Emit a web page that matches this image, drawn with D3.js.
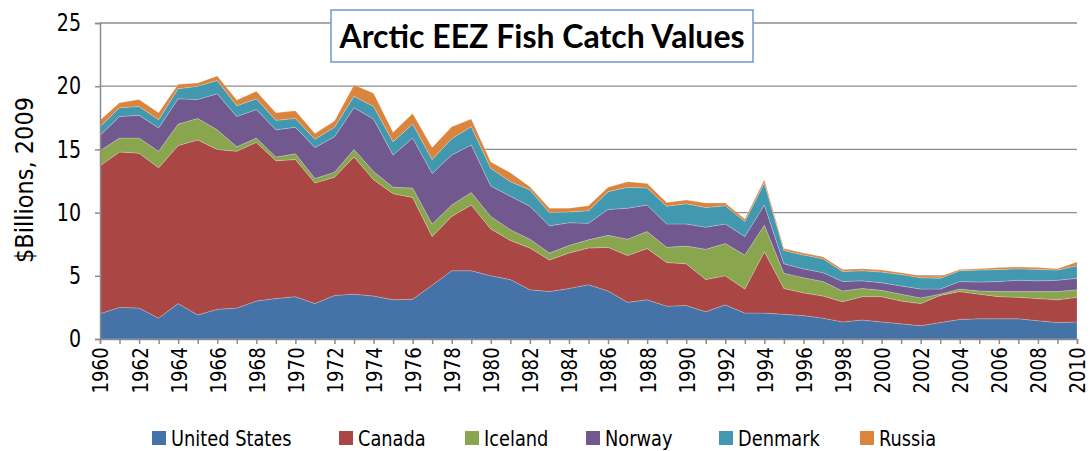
<!DOCTYPE html>
<html>
<head>
<meta charset="utf-8">
<script src="https://cdn.jsdelivr.net/npm/d3@7"></script>
<style>
  html, body { margin: 0; padding: 0; background: #fff; }
  svg { display: block; }
  .cond { font-family: "Liberation Sans Narrow", "DejaVu Sans Condensed", "Arial Narrow", sans-serif; font-stretch: condensed; }
</style>
</head>
<body>
<svg id="chart" width="1092" height="451"></svg>
<script>
// data, $ billions (2009)
var years = d3.range(1960, 2011);
var seriesNames = ["United States", "Canada", "Iceland", "Norway", "Denmark", "Russia"];
var unitedStates = [2.0,2.5,2.45,1.65,2.8,1.9,2.35,2.45,3.0,3.2,3.35,2.8,3.45,3.55,3.4,3.1,3.15,4.25,5.4,5.4,5.0,4.7,3.9,3.75,4.0,4.3,3.8,2.9,3.1,2.6,2.65,2.15,2.7,2.05,2.05,1.95,1.85,1.65,1.35,1.5,1.35,1.2,1.05,1.3,1.55,1.6,1.6,1.6,1.45,1.3,1.35];
var canada = [11.7,12.3,12.25,11.9,12.5,13.85,12.65,12.4,12.55,10.9,10.85,9.55,9.35,10.85,9.2,8.4,8.05,3.85,4.3,5.2,3.7,3.1,3.3,2.5,2.8,2.9,3.45,3.7,4.05,3.45,3.3,2.55,2.3,1.9,4.85,2.05,1.8,1.75,1.6,1.85,2.0,1.8,1.75,2.15,2.2,1.95,1.75,1.7,1.75,1.8,1.95];
var iceland = [1.2,1.1,1.2,1.3,1.7,1.7,1.55,0.35,0.35,0.3,0.45,0.35,0.4,0.6,0.65,0.5,0.75,1.0,0.9,1.0,1.0,0.85,0.7,0.55,0.6,0.65,0.95,1.3,1.35,1.2,1.4,2.4,2.55,2.7,2.1,1.2,1.2,1.15,0.85,0.65,0.5,0.55,0.45,0.1,0.2,0.25,0.4,0.45,0.55,0.65,0.6];
var norway = [1.2,1.7,1.8,1.85,2.0,1.5,2.85,2.4,2.25,2.15,2.1,2.45,2.8,3.3,4.15,2.55,3.95,4.0,3.95,3.75,2.4,2.65,2.6,2.15,1.8,1.3,2.05,2.45,2.1,1.85,1.75,1.75,1.55,1.45,1.6,0.75,0.7,0.7,0.75,0.6,0.6,0.65,0.7,0.4,0.6,0.7,0.8,0.9,0.85,0.9,0.9];
var denmark = [0.7,0.7,0.7,0.65,0.8,1.05,1.05,0.85,0.85,0.75,0.7,0.65,0.75,0.9,1.0,1.05,1.1,1.1,1.3,1.45,1.4,1.15,1.3,1.05,0.85,1.0,1.4,1.65,1.35,1.4,1.6,1.55,1.45,1.2,1.75,1.05,1.1,1.1,0.8,0.8,0.85,0.9,0.9,0.85,0.85,0.95,0.95,0.9,0.9,0.8,1.0];
var russia = [0.5,0.4,0.55,0.55,0.35,0.25,0.35,0.45,0.6,0.6,0.6,0.45,0.5,0.9,1.05,0.75,0.85,0.95,0.95,0.6,0.5,0.7,0.25,0.35,0.3,0.4,0.35,0.45,0.35,0.3,0.3,0.35,0.2,0.2,0.25,0.15,0.15,0.15,0.15,0.15,0.15,0.15,0.15,0.15,0.1,0.1,0.15,0.15,0.15,0.1,0.3];
var yTicks = [0, 5, 10, 15, 20, 25];
var xTickLabels = d3.range(1960, 2011, 2);
var colors = ["#4572A7", "#AA4643", "#89A54E", "#71588F", "#4198AF", "#DB843D"];

var valuesBySeries = [unitedStates, canada, iceland, norway, denmark, russia];
var rows = years.map(function (yr, i) {
    var r = {year: yr};
    seriesNames.forEach(function (n, k) { r[n] = valuesBySeries[k][i]; });
    return r;
});

var svg = d3.select("#chart");
var m = {left: 100, right: 1077, top: 23, bottom: 339};
var x = d3.scaleLinear().domain([1960, 2010]).range([m.left, m.right]);
var y = d3.scaleLinear().domain([0, 25]).range([m.bottom, m.top]);

// gridlines
svg.append("g").selectAll("line").data(yTicks.slice(1)).enter().append("line")
    .attr("x1", m.left).attr("x2", m.right)
    .attr("y1", function (d) { return y(d); }).attr("y2", function (d) { return y(d); })
    .attr("stroke", "#8c8c8c").attr("stroke-width", 1.3);

// stacked areas
var stacked = d3.stack().keys(seriesNames)(rows);
var area = d3.area()
    .x(function (d) { return x(d.data.year); })
    .y0(function (d) { return y(d[0]); })
    .y1(function (d) { return y(d[1]); });
svg.append("g").selectAll("path").data(stacked).enter().append("path")
    .attr("d", area)
    .attr("fill", function (d, i) { return colors[i]; })
    .attr("stroke", "#ffffff").attr("stroke-opacity", 0.35).attr("stroke-width", 0.6);

// y axis
var yAxis = d3.axisLeft(y).tickValues(yTicks).tickSize(5).tickPadding(14).tickFormat(d3.format("d"));
var gy = svg.append("g").attr("transform", "translate(" + m.left + ",0)").call(yAxis);
gy.select(".domain").attr("stroke", "#8c8c8c").attr("stroke-width", 1.5);
gy.selectAll(".tick line").attr("stroke", "#8c8c8c").attr("stroke-width", 1.5);
gy.selectAll("text").attr("class", "cond").attr("font-size", 24).attr("fill", "#000")
    .attr("transform", "translate(-19,0) scale(0.88,1) translate(19,0)");

// x axis
var xAxis = d3.axisBottom(x).tickValues(years).tickSize(5).tickFormat(function (d) {
    return xTickLabels.indexOf(d) >= 0 ? d : "";
});
var gx = svg.append("g").attr("transform", "translate(0," + m.bottom + ")").call(xAxis);
gx.select(".domain").attr("stroke", "#8c8c8c").attr("stroke-width", 1.5);
gx.selectAll(".tick line").attr("stroke", "#8c8c8c").attr("stroke-width", 1.5);
gx.selectAll("text").attr("class", "cond").attr("font-size", 22).attr("fill", "#000")
    .attr("transform", "rotate(-90) scale(0.92,1)").attr("text-anchor", "end")
    .attr("x", -9).attr("y", 0).attr("dy", "0.36em");

// y axis title
svg.append("text").attr("class", "cond")
    .attr("transform", "translate(33,180) rotate(-90)")
    .attr("text-anchor", "middle").attr("font-size", 25).attr("fill", "#000")
    .text("$Billions, 2009");

// title box
svg.append("rect").attr("x", 331).attr("y", 10).attr("width", 422).attr("height", 52)
    .attr("fill", "#fff").attr("stroke", "#6f98cf").attr("stroke-width", 1.5);
svg.append("text").attr("x", 542).attr("y", 48).attr("text-anchor", "middle")
    .attr("font-family", "Lato, 'Open Sans', sans-serif").attr("font-weight", "bold")
    .attr("font-size", 32).attr("fill", "#000")
    .text("Arctic EEZ Fish Catch Values");

// legend
var legendX = [152, 339, 465, 586, 719, 860];
var lg = svg.append("g").selectAll("g").data(seriesNames).enter().append("g")
    .attr("transform", function (d, i) { return "translate(" + legendX[i] + ",438)"; });
lg.append("rect").attr("x", 0).attr("y", -7).attr("width", 14).attr("height", 14)
    .attr("fill", function (d, i) { return colors[i]; });
lg.append("text").attr("class", "cond").attr("transform", "translate(19,0) scale(0.9,1)")
    .attr("dy", "0.36em").attr("font-size", 22).attr("fill", "#000")
    .text(function (d) { return d; });
</script>
</body>
</html>
